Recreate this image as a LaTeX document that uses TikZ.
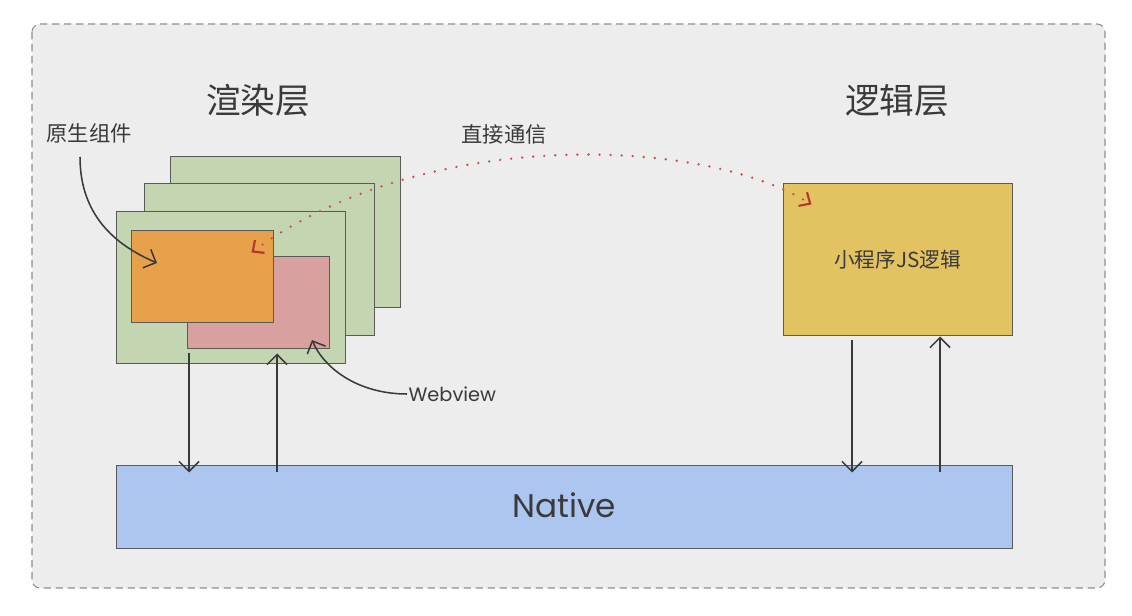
\documentclass[tikz,border=0pt]{standalone}
\usepackage{fontspec}
\newfontfamily\cjk{Noto Sans CJK SC}
\newfontfamily\lat{Poppins}
\usetikzlibrary{arrows.meta,fit}
\definecolor{bgc}{HTML}{EDEDED}
\definecolor{framec}{HTML}{8E8E8E}
\definecolor{greenc}{HTML}{C3D6B1}
\definecolor{orangec}{HTML}{E8A14B}
\definecolor{pinkc}{HTML}{D8A19F}
\definecolor{yellowc}{HTML}{E3C262}
\definecolor{bluec}{HTML}{ADC6F0}
\definecolor{edgec}{HTML}{5A5A5A}
\definecolor{inkc}{HTML}{3A3A3A}
\definecolor{dotc}{HTML}{C9534F}
\definecolor{tipc}{HTML}{B5382E}
\begin{document}
\begin{tikzpicture}[x=0.75pt,y=-0.75pt,
  frame/.style={draw=framec, line width=0.8pt, dash pattern=on 5.5pt off 3.5pt, rounded corners=6pt, fill=bgc},
  layerbox/.style={draw=edgec, line width=0.75pt, inner sep=0pt},
  title/.style={text=inkc, font=\cjk\fontsize{26}{30}\selectfont},
  lbl/.style={text=inkc, font=\cjk\fontsize{16}{19}\selectfont},
  arr/.style={draw=inkc, line width=1.15pt, -{Straight Barb[length=7.5pt,width=15pt,line width=1.15pt]}},
  dotarc/.style={draw=dotc, line width=2pt, line cap=round, dash pattern=on 0pt off 8.3pt,
    {Straight Barb[length=6.5pt,width=12pt,line width=1.6pt,color=tipc]}-{Straight Barb[length=6.5pt,width=12pt,line width=1.6pt,color=tipc]}}
]
\useasboundingbox (0,0) rectangle (1132,616);
\fill[white] (0,0) rectangle (1132,616);
\draw[frame] (32,24) rectangle (1105,588);

% render layer stack
\node[layerbox, fill=greenc, fit={(170,157) (400,308)}] (back) {};
\node[layerbox, fill=greenc, fit={(144,184) (374,336)}] (middle) {};
\node[layerbox, fill=greenc, fit={(116,212) (345,364)}] (front) {};
\node[layerbox, fill=pinkc, fit={(187,257) (329,349)}] (webview) {};
\node[layerbox, fill=orangec, fit={(131,231) (273,323)}] (native comp) {};

% logic layer
\node[layerbox, fill=yellowc, fit={(783,184) (1012,336)}] (logic) {};
\node[text=inkc, font=\cjk\fontsize{15.5}{18}\selectfont] (logictext) at (logic.center) {小程序JS逻辑};

% native
\node[layerbox, fill=bluec, fit={(116,466) (1012,548)}] (nativebar) {};
\node[text=inkc, font=\lat\fontsize{24.5}{28}\selectfont] (nativetext) at (564,505) {Native};

% titles and labels
\node[title] (t1) at (258,100) {渲染层};
\node[title] (t2) at (897,100) {逻辑层};
\node[lbl] (lcomp) at (89,133) {原生组件};
\node[lbl] (lcomm) at (504,134) {直接通信};
\node[text=inkc, font=\lat\fontsize{14.5}{17}\selectfont, anchor=west, inner sep=1pt] (lweb) at (407,394) {Webview};

% direct communication arc
\coordinate (arcL) at ([shift={(-22,22)}]native comp.north east);
\coordinate (arcR) at ([shift={(29,21)}]logic.north west);
\draw[dotarc] (arcL) .. controls (420,128) and (700,135) .. (arcR);

% label arrows
\coordinate (compstart) at (80,157);
\draw[arr] (compstart) .. controls (80,215) and (115,245) .. (157,263);
\draw[arr] (lweb.west) .. controls (360,394) and (325,370) .. (312,340);

% vertical arrows
\draw[arr] ([yshift=-3pt]webview.south -| 189,0) -- ([yshift=-5.25pt]nativebar.north -| 189,0);
\draw[arr] ([yshift=-5.25pt]nativebar.north -| 277,0) -- ([yshift=-3pt]webview.south -| 277,0);
\draw[arr] ([yshift=-3pt]logic.south -| 852,0) -- ([yshift=-5.25pt]nativebar.north -| 852,0);
\draw[arr] ([yshift=-5.25pt]nativebar.north -| 940,0) -- (logic.south -| 940,0);
\end{tikzpicture}
\end{document}
